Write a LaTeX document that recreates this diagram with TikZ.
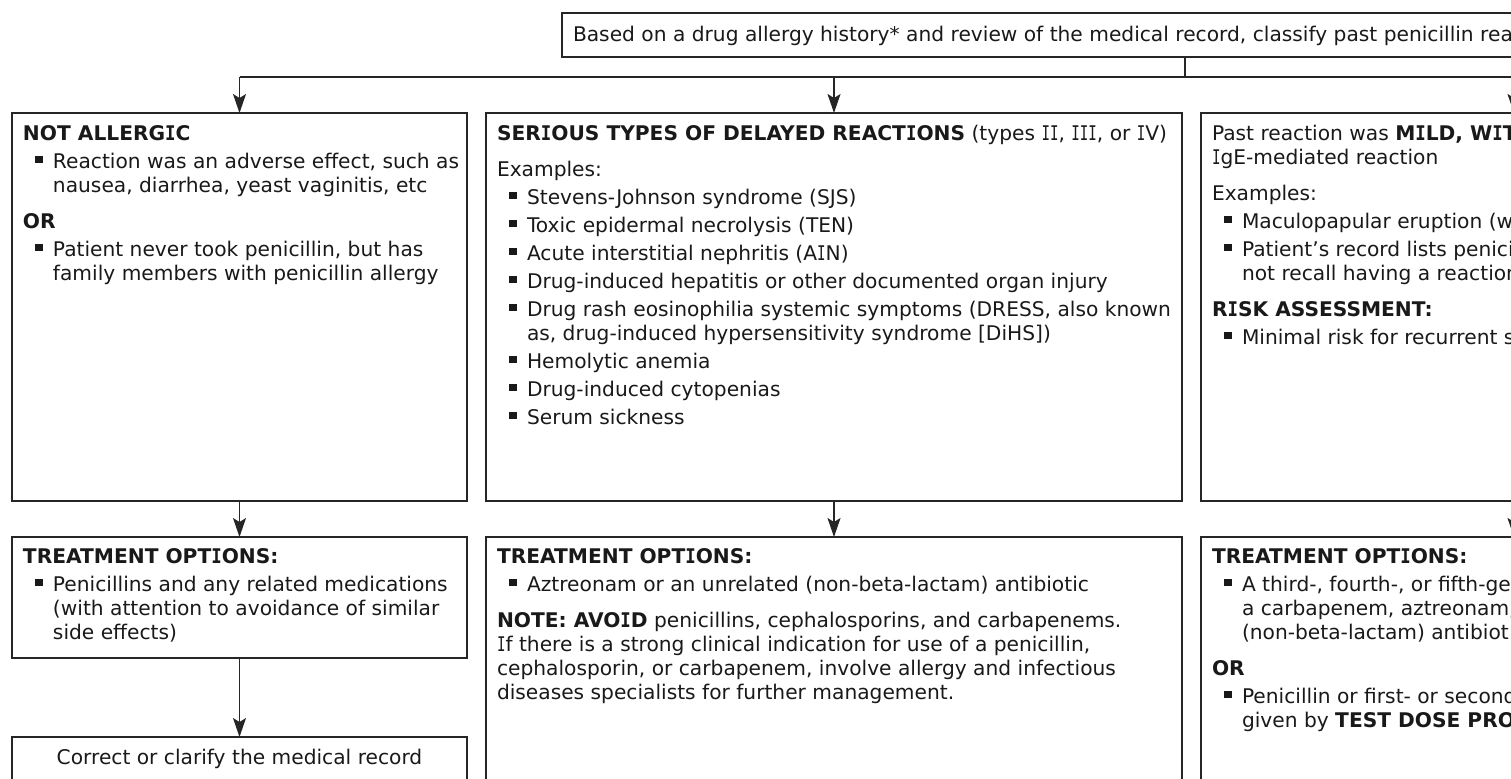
\documentclass[tikz,border=0pt]{standalone}
\usepackage{fontspec}
\usepackage{graphicx}
\setmainfont{DejaVu Sans}
\newfontfamily\monoI{DejaVu Sans Mono}
\usetikzlibrary{arrows.meta,calc}
\newcommand\bul{\llap{\rule[2.3pt]{3.9pt}{3.7pt}\hspace{5.2pt}}}
\newcommand\vI{{\monoI\scalebox{0.70}[1]{I}}}
\newcommand\vIb{{\monoI\scalebox{0.86}[1]{I}}}
\newcommand\tl[4]{\node[txt] (#1) at (#2,#3) {#4};}
\begin{document}
\begin{tikzpicture}[x=0.5pt,y=-0.5pt,
  box/.style={draw=black!85, line width=0.9pt, inner sep=0pt, outer sep=0pt, anchor=north west},
  txt/.style={inner sep=0pt, outer sep=0pt, anchor=base west, text=black!90, font=\fontsize{10.1}{12}\selectfont},
  ctxt/.style={txt, anchor=base},
  link/.style={draw=black!85, line width=0.75pt},
  arr/.style={link, -{Stealth[length=9.5pt,width=6.5pt,inset=2pt]}}]
\useasboundingbox (0,0) rectangle (1511,778);
\clip (0,0) rectangle (1511,778);
% boxes
\node[box, minimum width=623pt, minimum height=22pt] (top) at (562,13) {};
\node[box, minimum width=227.5pt, minimum height=194pt] (c1) at (12,113) {};
\node[box, minimum width=348pt, minimum height=194pt] (c2) at (486,113) {};
\node[box, minimum width=313pt, minimum height=194pt] (c3) at (1201,113) {};
\node[box, minimum width=227.5pt, minimum height=60.5pt] (t1) at (12,537) {};
\node[box, minimum width=348pt, minimum height=150pt] (t2) at (486,537) {};
\node[box, minimum width=313pt, minimum height=150pt] (t3) at (1201,537) {};
\node[box, minimum width=227.5pt, minimum height=40pt] (r1) at (12,737) {};
% connectors
\coordinate (bus) at ($(top.south)+(0,20)$);
\draw[link] (top.south) -- (bus);
\draw[link] (bus -| c1.north) -- (bus -| c3.north);
\draw[arr] (bus -| c1.north) -- (c1.north);
\draw[arr] (bus -| c2.north) -- (c2.north);
\draw[arr] (bus -| c3.north) -- (c3.north);
\draw[arr] (c1.south) -- (t1.north);
\draw[arr] (c2.south) -- (t2.north);
\draw[arr] (c3.south) -- (t3.north);
\draw[arr] (t1.south) -- (r1.north);
% top text
\tl{tp}{573}{41}{Based on a drug allergy history* and review of the medical record, classify past penicillin rea}
% column 1
\tl{a1}{23}{140}{\textbf{NOT ALLERG\vIb C}}
\tl{a2}{53}{168}{\bul Reaction was an adverse effect, such as}
\tl{a3}{53}{192}{nausea, diarrhea, yeast vaginitis, etc}
\tl{a4}{23}{228}{\textbf{OR}}
\tl{a5}{53}{256}{\bul Patient never took penicillin, but has}
\tl{a6}{53}{280}{family members with penicillin allergy}
% column 2
\tl{b1}{497}{140}{\textbf{SER\vIb OUS TYPES OF DELAYED REACT\vIb ONS} (types \vI\vI, \vI\vI\vI, or \vI V)}
\tl{b2}{497}{176}{Examples:}
\tl{b3}{527}{204}{\bul Stevens-Johnson syndrome (SJS)}
\tl{b4}{527}{232}{\bul Toxic epidermal necrolysis (TEN)}
\tl{b5}{527}{260}{\bul Acute interstitial nephritis (A\vI N)}
\tl{b6}{527}{288}{\bul Drug-induced hepatitis or other documented organ injury}
\tl{b7}{527}{316}{\bul Drug rash eosinophilia systemic symptoms (DRESS, also known}
\tl{b8}{527}{340}{as, drug-induced hypersensitivity syndrome [DiHS])}
\tl{b9}{527}{368}{\bul Hemolytic anemia}
\tl{b10}{527}{396}{\bul Drug-induced cytopenias}
\tl{b11}{527}{424}{\bul Serum sickness}
% column 3
\tl{e1}{1212}{140}{Past reaction was \textbf{M\vIb LD, W\vIb T}}
\tl{e2}{1212}{164}{\vI gE-mediated reaction}
\tl{e3}{1212}{200}{Examples:}
\tl{e4}{1242}{228}{\bul Maculopapular eruption (w}
\tl{e5}{1242}{256}{\bul Patient’s record lists penici}
\tl{e6}{1242}{280}{not recall having a reaction}
\tl{e7}{1212}{316}{\textbf{R\vIb SK ASSESSMENT:}}
\tl{e8}{1242}{344}{\bul Minimal risk for recurrent s}
% treatment 1
\tl{f1}{23}{563}{\textbf{TREATMENT OPT\vIb ONS:}}
\tl{f2}{53}{591}{\bul Penicillins and any related medications}
\tl{f3}{53}{615}{(with attention to avoidance of similar}
\tl{f4}{53}{639}{side effects)}
% treatment 2
\tl{g1}{497}{563}{\textbf{TREATMENT OPT\vIb ONS:}}
\tl{g2}{527}{591}{\bul Aztreonam or an unrelated (non-beta-lactam) antibiotic}
\tl{g3}{497}{627}{\textbf{NOTE: AVO\vIb D} penicillins, cephalosporins, and carbapenems.}
\tl{g4}{497}{651}{\vI f there is a strong clinical indication for use of a penicillin,}
\tl{g5}{497}{675}{cephalosporin, or carbapenem, involve allergy and infectious}
\tl{g6}{497}{699}{diseases specialists for further management.}
% treatment 3
\tl{h1}{1212}{563}{\textbf{TREATMENT OPT\vIb ONS:}}
\tl{h2}{1242}{591}{\bul A third-, fourth-, or fifth-ge}
\tl{h3}{1242}{615}{a carbapenem, aztreonam,}
\tl{h4}{1242}{639}{(non-beta-lactam) antibiot}
\tl{h5}{1212}{675}{\textbf{OR}}
\tl{h6}{1242}{703}{\bul Penicillin or first- or second}
\tl{h7}{1242}{727}{given by \textbf{TEST DOSE PRO}}
% record box
\node[ctxt] (rt) at ($(r1.north)+(0,27)$) {Correct or clarify the medical record};
\end{tikzpicture}
\end{document}
